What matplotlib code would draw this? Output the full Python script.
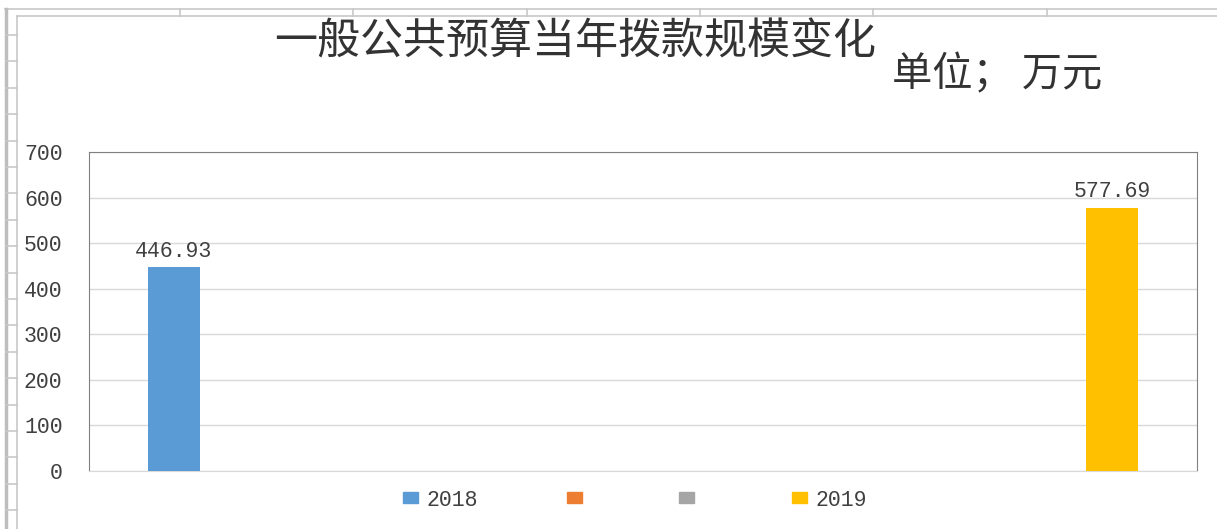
import numpy as np
import matplotlib.pyplot as plt
from matplotlib.lines import Line2D
from matplotlib.patches import Rectangle

# data
series_names = ['2018', '', '', '2019']
series_values = [446.93, 0, 0, 577.69]
series_colors = ['#5B9BD5', '#ED7D31', '#A5A5A5', '#FFC000']
y_ticks = [0, 100, 200, 300, 400, 500, 600, 700]

title = '一般公共预算当年拨款规模变化'
unit = '单位； 万元'

W, H = 1217, 529
cjk = ['Noto Sans CJK SC', 'DejaVu Sans']
num_font = 'Liberation Mono'
num_size = 15.5

fig = plt.figure(figsize=(W / 100, H / 100), dpi=100)
fig.patch.set_facecolor('white')


def fx(px):
    return px / W


def fy(py):
    return 1 - py / H


# spreadsheet grid showing around the chart object
grid_c = '#c8c8c8'
fig.add_artist(Line2D([fx(5), 1], [fy(9), fy(9)], color=grid_c, lw=1.2))
fig.add_artist(Line2D([fx(17), 1], [fy(16), fy(16)], color=grid_c, lw=1.2))
fig.add_artist(Line2D([fx(6), fx(6)], [fy(9), 0], color='#bdbdbd', lw=2.5))
fig.add_artist(Line2D([fx(17), fx(17)], [fy(16), 0], color=grid_c, lw=1.2))
for xx in [180, 353, 527, 700, 873, 1047]:
    fig.add_artist(Line2D([fx(xx), fx(xx)], [fy(9), fy(16)], color=grid_c, lw=1.2))
for yy in np.arange(35, 529, 26.4):
    fig.add_artist(Line2D([fx(6), fx(17)], [fy(yy), fy(yy)], color=grid_c, lw=1.2))

ax = fig.add_axes([fx(89), fy(471), fx(1197) - fx(89), fy(152) - fy(471)])

n = len(series_values)
step = 0.2822
bar_w = 0.0469
handles = []
for i, (name, val, col) in enumerate(zip(series_names, series_values, series_colors)):
    xpos = (i - (n - 1) / 2) * step
    bars = ax.bar([xpos], [val], width=bar_w, color=col, zorder=3)
    if val > 0:
        ax.bar_label(bars, labels=[f'{val:.2f}'], padding=4, fontsize=num_size,
                     family=num_font, color='#404040')
    handles.append(Rectangle((0, 0), 1, 1, color=col))

ax.set_xlim(-0.5, 0.5)
ax.set_ylim(0, 700)
ax.set_yticks(y_ticks)
ax.set_xticks([])
ax.tick_params(axis='y', length=0, pad=19, labelsize=num_size, labelcolor='#404040')
for lab in ax.get_yticklabels():
    lab.set_family(num_font)
ax.grid(axis='y', color='#d9d9d9', lw=1, zorder=0)
for s in ['left', 'top', 'right']:
    ax.spines[s].set_color('#808080')
ax.spines['bottom'].set_color('#d9d9d9')

fig.text(fx(575), fy(42), title, ha='center', va='center', fontsize=31,
         family=cjk, weight='light', color='#333333')
fig.text(fx(997), fy(75), unit, ha='center', va='center', fontsize=29,
         family=cjk, weight='light', color='#333333')

fig.legend(handles, series_names, loc='center', bbox_to_anchor=(fx(635), fy(500)),
           ncol=4, frameon=False, prop={'family': num_font, 'size': num_size},
           handlelength=0.7, handleheight=0.4, handletextpad=0.42,
           columnspacing=4.1, labelcolor='#404040')

plt.savefig('out.png', dpi=100)
plt.close()
